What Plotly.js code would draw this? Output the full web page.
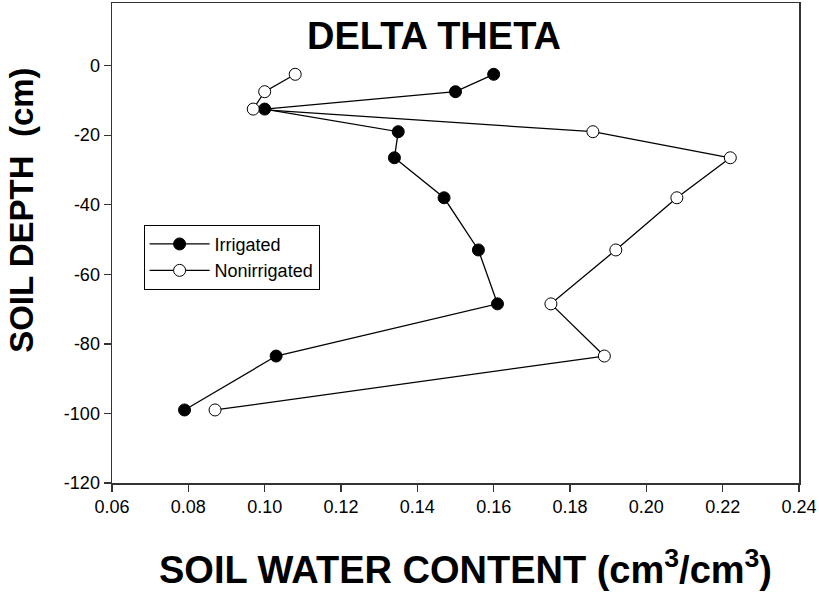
<!DOCTYPE html>
<html>
<head>
<meta charset="utf-8">
<script src="https://cdn.plot.ly/plotly-3.0.1.min.js"></script>
<style>html,body{margin:0;padding:0;background:#fff;}#chart{width:819px;height:600px;}</style>
</head>
<body>
<div id="chart"></div>
<script>
// Data
const depth = [-2.5, -7.5, -12.5, -19, -26.5, -38, -53, -68.5, -83.5, -99];
const irrigated = [0.160, 0.150, 0.100, 0.135, 0.134, 0.147, 0.156, 0.161, 0.103, 0.079];
const nonirrigated = [0.108, 0.100, 0.097, 0.186, 0.222, 0.208, 0.192, 0.175, 0.189, 0.087];
const seriesNames = ["Irrigated", "Nonirrigated"];
const xTicks = [0.06, 0.08, 0.10, 0.12, 0.14, 0.16, 0.18, 0.20, 0.22, 0.24];
const yTicks = [0, -20, -40, -60, -80, -100, -120];

const font = "Arial, 'Liberation Sans', sans-serif";

const traces = [
  {
    x: irrigated, y: depth, name: seriesNames[0], type: "scatter", mode: "lines+markers",
    line: {color: "#000", width: 1.3},
    marker: {symbol: "circle", size: 12, color: "#000", line: {color: "#000", width: 1}}
  },
  {
    x: nonirrigated, y: depth, name: seriesNames[1], type: "scatter", mode: "lines+markers",
    line: {color: "#000", width: 1.3},
    marker: {symbol: "circle", size: 12, color: "#fff", line: {color: "#000", width: 1}}
  }
];

const axisCommon = {
  showgrid: false, zeroline: false, showline: true, mirror: true,
  linecolor: "#333", linewidth: 1.5,
  ticks: "outside", ticklen: 7, tickwidth: 1.3, tickcolor: "#333",
  tickfont: {family: font, size: 18, color: "#000"}
};

const layout = {
  width: 819, height: 600,
  margin: {l: 112, r: 20, t: 3, b: 117},
  paper_bgcolor: "#fff", plot_bgcolor: "#fff",
  showlegend: true,
  legend: {
    x: 0.046, y: 0.538, xanchor: "left", yanchor: "top",
    bordercolor: "#000", borderwidth: 1, bgcolor: "#fff",
    itemwidth: 60,
    font: {family: font, size: 18, color: "#000"}
  },
  xaxis: Object.assign({}, axisCommon, {
    range: [0.06, 0.24], tickvals: xTicks,
    ticktext: xTicks.map(v => v.toFixed(2))
  }),
  yaxis: Object.assign({}, axisCommon, {
    range: [-120, 18], tickvals: yTicks, ticktext: yTicks.map(String)
  }),
  annotations: [
    {text: "<b>DELTA THETA</b>", xref: "paper", yref: "paper", x: 0.4694, y: 0.932,
     xanchor: "center", yanchor: "middle", showarrow: false,
     font: {family: font, size: 38, color: "#000"}},
    {text: "<b>SOIL WATER CONTENT (cm<sup>3</sup>/cm<sup>3</sup>)</b>", xref: "paper", yref: "paper",
     x: 0.515, y: -0.175, xanchor: "center", yanchor: "middle", showarrow: false,
     font: {family: font, size: 38, color: "#000"}},
    {text: "<b>SOIL DEPTH  (cm)</b>", xref: "paper", yref: "paper", x: -0.131, y: 0.567,
     xanchor: "center", yanchor: "middle", textangle: -90, showarrow: false,
     font: {family: font, size: 33, color: "#000"}}
  ]
};

Plotly.newPlot("chart", traces, layout, {displayModeBar: false, staticPlot: true});
</script>
</body>
</html>
